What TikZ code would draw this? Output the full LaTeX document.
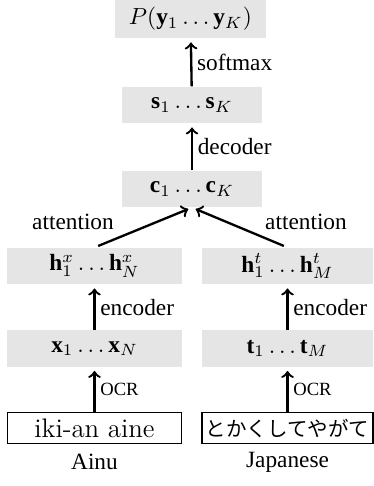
\documentclass[tikz,border=0pt]{standalone}
\usepackage{fontspec}
\setmainfont{Liberation Serif}
\newfontfamily\jpfont{Noto Sans CJK JP}
\newfontfamily\lmfont{Latin Modern Roman}
\begin{document}
\begin{tikzpicture}[x=0.4291pt, y=-0.4291pt,
    layer/.style={fill=gray!20, minimum height=15.5pt, inner sep=0pt},
    script/.style={draw, line width=0.5pt, minimum height=13pt, inner sep=0pt},
    up/.style={->, line width=1pt, shorten >=1.7pt}]
  \useasboundingbox (0,0) rectangle (374,486);

  \node[layer, minimum width=64.8pt, minimum height=16.3pt] (P) at (190.5, 19) {$P(\mathbf{y}_1\ldots\mathbf{y}_K)$};
  \node[layer, minimum width=60pt] (s) at (192, 105) {$\mathbf{s}_1\ldots\mathbf{s}_K$};
  \node[layer, minimum width=60pt] (c) at (192, 189) {$\mathbf{c}_1\ldots\mathbf{c}_K$};

  \node[layer, minimum width=75pt] (hx) at (94.5, 266) {$\mathbf{h}^x_1\ldots\mathbf{h}^x_N$};
  \node[layer, minimum width=73.4pt] (ht) at (287.5, 266) {$\mathbf{h}^t_1\ldots\mathbf{h}^t_M$};
  \node[layer, minimum width=75pt] (x) at (94.5, 348.5) {$\mathbf{x}_1\ldots\mathbf{x}_N$};
  \node[layer, minimum width=73.4pt] (t) at (287.5, 348.5) {$\mathbf{t}_1\ldots\mathbf{t}_M$};

  \node[script, minimum width=75pt] (ainu) at (94.5, 428) {\lmfont\fontsize{11.5}{13}\selectfont iki-an aine};
  \node[script, minimum width=73.4pt] (jap) at (287.5, 428) {\jpfont\fontsize{8.8}{10}\selectfont とかくしてやがて};
  \node (ainulbl) at (94.5, 462) {Ainu};
  \node (japlbl) at (287.5, 462) {Japanese};

  \draw[up] (s) -- node[right, inner sep=2pt] {softmax} (P);
  \draw[up] (c) -- node[right, inner sep=2pt] {decoder} (s);
  \draw[up] (x) -- node[right, inner sep=2pt] {encoder} (hx);
  \draw[up] (t) -- node[right, inner sep=2pt] {encoder} (ht);
  \draw[up] (ainu) -- node[right, inner sep=2pt] {\footnotesize OCR} (x);
  \draw[up] (jap) -- node[right, inner sep=2pt] {\footnotesize OCR} (t);

  \draw[up, shorten <=1.7pt] (hx.north) -- (c.south);
  \draw[up, shorten <=1.7pt] (ht.north) -- (c.south);
  \node (attx) at (73, 222) {attention};
  \node (attt) at (306, 222) {attention};
\end{tikzpicture}
\end{document}
